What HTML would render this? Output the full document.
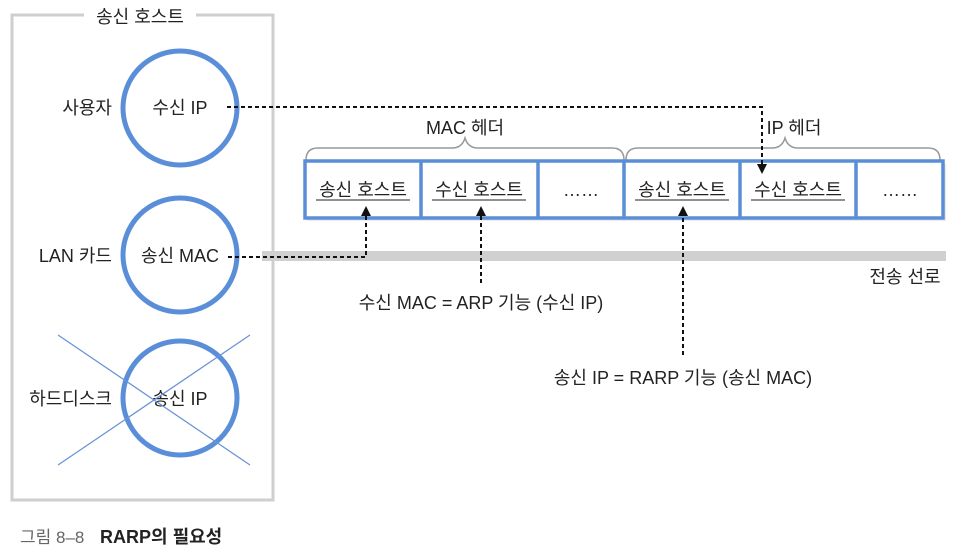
<!DOCTYPE html>
<html><head><meta charset="utf-8"><style>
body{margin:0;background:#fff;width:958px;height:555px;overflow:hidden}
svg text{font-family:"Liberation Sans","Noto Sans CJK KR",sans-serif;fill:#222}
</style></head><body>
<svg width="958" height="555" viewBox="0 0 958 555" xmlns="http://www.w3.org/2000/svg">
<defs>
<marker id="ah" viewBox="0 0 10 10" refX="8" refY="5" markerWidth="5" markerHeight="5" orient="auto"><path d="M0,0 L10,5 L0,10 z" fill="#111"/></marker>
</defs>
<path d="M84,15 L12,15 L12,500 L273,500 L273,15 L196,15" fill="none" stroke="#cfcfcf" stroke-width="3"/>
<text x="140" y="23" font-size="18" text-anchor="middle">송신 호스트</text>
<rect x="262" y="251" width="684" height="10" fill="#d0d0d0"/>
<text x="905" y="283" font-size="18" text-anchor="middle">전송 선로</text>
<g fill="#fff" stroke="#5b8ed8" stroke-width="5">
<circle cx="180" cy="108" r="57"/>
<circle cx="180" cy="255" r="57"/>
<circle cx="180" cy="398" r="57"/>
</g>
<text x="180" y="114" font-size="18" text-anchor="middle">수신 IP</text>
<text x="180" y="262" font-size="18" text-anchor="middle">송신 MAC</text>
<text x="180" y="405" font-size="18" text-anchor="middle">송신 IP</text>
<text x="112" y="114" font-size="18" text-anchor="end">사용자</text>
<text x="112" y="262" font-size="18" text-anchor="end">LAN 카드</text>
<text x="112" y="405" font-size="18" text-anchor="end">하드디스크</text>
<line x1="58" y1="335" x2="250" y2="465" stroke="#6b93d6" stroke-width="1.3"/>
<line x1="250" y1="335" x2="58" y2="465" stroke="#6b93d6" stroke-width="1.3"/>
<g fill="none" stroke="#999" stroke-width="1.5">
<path d="M306,160 Q306,148 318,148 L452,148 Q462,148 465,138 Q468,148 478,148 L612,148 Q624,148 624,160"/>
<path d="M626,160 Q626,148 638,148 L772,148 Q782,148 785,138 Q788,148 798,148 L928,148 Q940,148 940,160"/>
</g>
<text x="465" y="134" font-size="18" text-anchor="middle">MAC 헤더</text>
<text x="794" y="134" font-size="18" text-anchor="middle">IP 헤더</text>
<rect x="307" y="164" width="639" height="57" fill="#ddd" opacity="0.6"/>
<rect x="305" y="161" width="638" height="57" fill="#fff" stroke="#5b8ed8" stroke-width="3.5"/>
<g stroke="#5b8ed8" stroke-width="3.5">
<line x1="421" y1="161" x2="421" y2="218"/><line x1="538" y1="161" x2="538" y2="218"/>
<line x1="624" y1="161" x2="624" y2="218"/><line x1="740" y1="161" x2="740" y2="218"/>
<line x1="856" y1="161" x2="856" y2="218"/>
</g>
<g font-size="18" text-anchor="middle">
<text x="363" y="196">송신 호스트</text><text x="479" y="196">수신 호스트</text><text x="581" y="196">……</text>
<text x="682" y="196">송신 호스트</text><text x="798" y="196">수신 호스트</text><text x="900" y="196">……</text>
</g>
<g stroke="#222" stroke-width="1"><line x1="316" y1="200" x2="410" y2="200"/><line x1="432" y1="200" x2="526" y2="200"/><line x1="635" y1="200" x2="729" y2="200"/><line x1="751" y1="200" x2="845" y2="200"/></g>
<g fill="none" stroke="#111" stroke-width="2" stroke-dasharray="4,3">
<path d="M227,107 L762,107 L762,172" marker-end="url(#ah)"/>
<path d="M228,257 L366,257 L366,208" marker-end="url(#ah)"/>
<path d="M481,283 L481,208" marker-end="url(#ah)"/>
<path d="M683,355 L683,208" marker-end="url(#ah)"/>
</g>
<text x="481" y="309" font-size="18" text-anchor="middle">수신 MAC = ARP 기능 (수신 IP)</text>
<text x="683" y="384" font-size="18" text-anchor="middle">송신 IP = RARP 기능 (송신 MAC)</text>
<text x="20" y="543" font-size="17" style="fill:#666">그림 8–8</text>
<text x="100" y="543" font-size="18" font-weight="bold">RARP의 필요성</text>
</svg>
</body></html>
